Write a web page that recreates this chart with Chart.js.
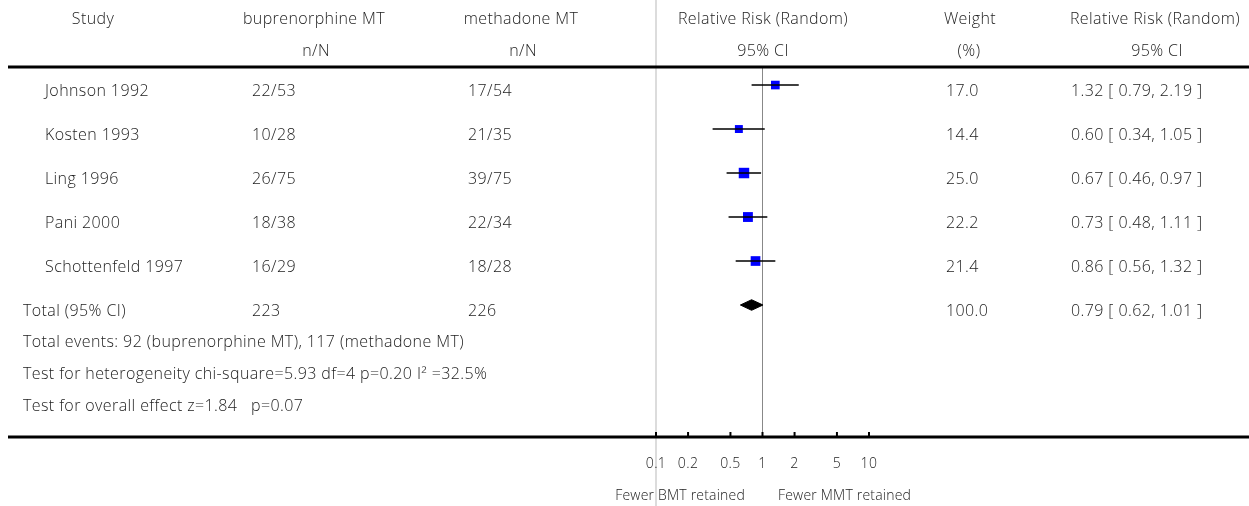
<!DOCTYPE html>
<html>
<head>
<meta charset="utf-8">
<script src="https://cdn.jsdelivr.net/npm/chart.js@4.4.1/dist/chart.umd.min.js"></script>
<style>
  body { margin: 0; background: #fff; }
  #wrap { position: relative; width: 1249px; height: 506px; font-family: 'Open Sans', sans-serif; font-weight: 300; font-size: 16px; letter-spacing: 0.4px; color: #222; }
  #wrap canvas { position: absolute; left: 0; top: 0; }
  .t { position: absolute; white-space: pre; line-height: 18px; }
  .c { transform: translateX(-50%); }
  .s { font-size: 14px; letter-spacing: 0.2px; }
</style>
</head>
<body>
<div id="wrap"><canvas id="forest"></canvas></div>
<script>
const studies = ['Johnson 1992', 'Kosten 1993', 'Ling 1996', 'Pani 2000', 'Schottenfeld 1997'];
const bupEvents = ['22/53', '10/28', '26/75', '18/38', '16/29'];
const metEvents = ['17/54', '21/35', '39/75', '22/34', '18/28'];
const rr = [1.32, 0.60, 0.67, 0.73, 0.86];
const rrLow = [0.79, 0.34, 0.46, 0.48, 0.56];
const rrHigh = [2.19, 1.05, 0.97, 1.11, 1.32];
const weights = [17.0, 14.4, 25.0, 22.2, 21.4];

const totalLabel = 'Total (95% CI)';
const totalBup = '223';
const totalMet = '226';
const totalWeight = 100.0;
const totalRR = 0.79;
const totalLow = 0.62;
const totalHigh = 1.01;

const xTicks = [0.1, 0.2, 0.5, 1, 2, 5, 10];
const xTickLabels = ['0.1', '0.2', '0.5', '1', '2', '5', '10'];

const footnotes = [
  'Total events: 92 (buprenorphine MT), 117 (methadone MT)',
  'Test for heterogeneity chi-square=5.93 df=4 p=0.20 I\u00b2 =32.5%',
  'Test for overall effect z=1.84   p=0.07'
];
const favourLeft = 'Fewer BMT retained';
const favourRight = 'Fewer MMT retained';

const wrap = document.getElementById('wrap');
function addText(txt, x, y, cls) {
  const d = document.createElement('div');
  d.className = 't ' + (cls || '');
  d.textContent = txt;
  d.style.left = x + 'px';
  d.style.top = (y - 9) + 'px';
  wrap.appendChild(d);
  return d;
}

function line(ctx, x1, y1, x2, y2) {
  ctx.beginPath();
  ctx.moveTo(x1, y1);
  ctx.lineTo(x2, y2);
  ctx.stroke();
}

const rows = rr.map((v, i) => i);
const totalRow = studies.length;
const diamondHalf = 0.12;

// whiskers as one broken line
const whiskerData = [];
rows.forEach(i => {
  whiskerData.push({ x: rrLow[i], y: i }, { x: rrHigh[i], y: i }, { x: null, y: null });
});

const decor = {
  id: 'decor',
  beforeDraw(chart) {
    const { ctx, scales: { x } } = chart;
    ctx.save();
    ctx.strokeStyle = '#dcdcdc';
    ctx.lineWidth = 2;
    const x0 = x.getPixelForValue(xTicks[0]);
    line(ctx, x0, 0, x0, chart.height);
    ctx.restore();
  },
  beforeDatasetsDraw(chart) {
    const { ctx, chartArea, scales: { x } } = chart;
    ctx.save();
    ctx.strokeStyle = '#888';
    ctx.lineWidth = 1;
    const x1 = x.getPixelForValue(1);
    line(ctx, x1, chartArea.top, x1, chartArea.bottom);
    ctx.restore();
  },
  afterDraw(chart) {
    const { ctx, chartArea, scales: { x } } = chart;
    ctx.save();
    ctx.strokeStyle = '#000';
    ctx.lineWidth = 3;
    line(ctx, 8, chartArea.top, chart.width, chartArea.top);
    line(ctx, 8, chartArea.bottom, chart.width, chartArea.bottom);
    ctx.lineWidth = 2;
    x.ticks.forEach(t => {
      const px = x.getPixelForValue(t.value);
      line(ctx, px, chartArea.bottom - 5, px, chartArea.bottom);
    });
    ctx.restore();
  }
};

const chart = new Chart(document.getElementById('forest'), {
  type: 'scatter',
  data: {
    datasets: [
      {
        type: 'line',
        data: whiskerData,
        borderColor: '#000',
        borderWidth: 1.5,
        pointRadius: 0,
        spanGaps: false,
        fill: false
      },
      {
        data: rows.map(i => ({ x: rr[i], y: i })),
        pointStyle: 'rect',
        pointRadius: weights.map(w => 1.48 * Math.sqrt(w)),
        backgroundColor: '#0000ff',
        borderWidth: 0
      },
      {
        data: rows.map(i => ({ x: rr[i], y: i })),
        pointStyle: 'cross',
        pointRadius: 2.5,
        borderColor: '#000',
        borderWidth: 1
      },
      {
        type: 'line',
        data: [
          { x: totalLow, y: totalRow },
          { x: totalRR, y: totalRow - diamondHalf },
          { x: totalHigh, y: totalRow },
          { x: totalRR, y: totalRow + diamondHalf },
          { x: totalLow, y: totalRow }
        ],
        borderColor: '#000',
        borderWidth: 1,
        backgroundColor: '#000',
        pointRadius: 0,
        tension: 0,
        fill: 'shape'
      }
    ]
  },
  options: {
    responsive: true,
    maintainAspectRatio: false,
    animation: false,
    layout: { padding: { left: 656, right: 380, top: 67, bottom: 0 } },
    plugins: { legend: { display: false }, tooltip: { enabled: false } },
    scales: {
      x: {
        type: 'logarithmic',
        min: 0.1,
        max: 10,
        afterBuildTicks: s => { s.ticks = xTicks.map(v => ({ value: v })); },
        afterFit: s => { s.height = 69; },
        grid: { display: false, drawTicks: false },
        border: { display: false },
        ticks: {
          autoSkip: false,
          maxRotation: 0,
          padding: 19,
          color: '#222',
          font: { family: 'Open Sans', size: 14, weight: 300 },
          callback: (v, i) => xTickLabels[i]
        }
      },
      y: {
        type: 'linear',
        display: false,
        reverse: true,
        min: -0.41,
        max: 8
      }
    }
  },
  plugins: [decor]
});

// table text placed on the chart's own row scale
const ys = chart.scales.y;
const rowY = i => ys.getPixelForValue(i) + 5;

addText('Study', 93, 18, 'c');
addText('buprenorphine MT', 314, 18, 'c');
addText('n/N', 316, 50, 'c');
addText('methadone MT', 521, 18, 'c');
addText('n/N', 523, 50, 'c');
addText('Relative Risk (Random)', 763, 18, 'c');
addText('95% CI', 763, 50, 'c');
addText('Weight', 970, 18, 'c');
addText('(%)', 969, 50, 'c');
addText('Relative Risk (Random)', 1155, 18, 'c');
addText('95% CI', 1157, 50, 'c');

const fmtCI = (v, lo, hi) => v.toFixed(2) + ' [ ' + lo.toFixed(2) + ', ' + hi.toFixed(2) + ' ]';

rows.forEach(i => {
  const y = rowY(i);
  addText(studies[i], 45, y);
  addText(bupEvents[i], 252, y);
  addText(metEvents[i], 468, y);
  addText(weights[i].toFixed(1), 946, y);
  addText(fmtCI(rr[i], rrLow[i], rrHigh[i]), 1071, y);
});

const ty = rowY(totalRow);
addText(totalLabel, 23, ty);
addText(totalBup, 252, ty);
addText(totalMet, 468, ty);
addText(totalWeight.toFixed(1), 946, ty);
addText(fmtCI(totalRR, totalLow, totalHigh), 1071, ty);

footnotes.forEach((f, k) => addText(f, 23, 341 + 32 * k));

const d1 = addText(favourLeft, 0, 495, 's');
d1.style.left = '';
d1.style.right = (1249 - 745) + 'px';
addText(favourRight, 778, 495, 's');
</script>
</body>
</html>
